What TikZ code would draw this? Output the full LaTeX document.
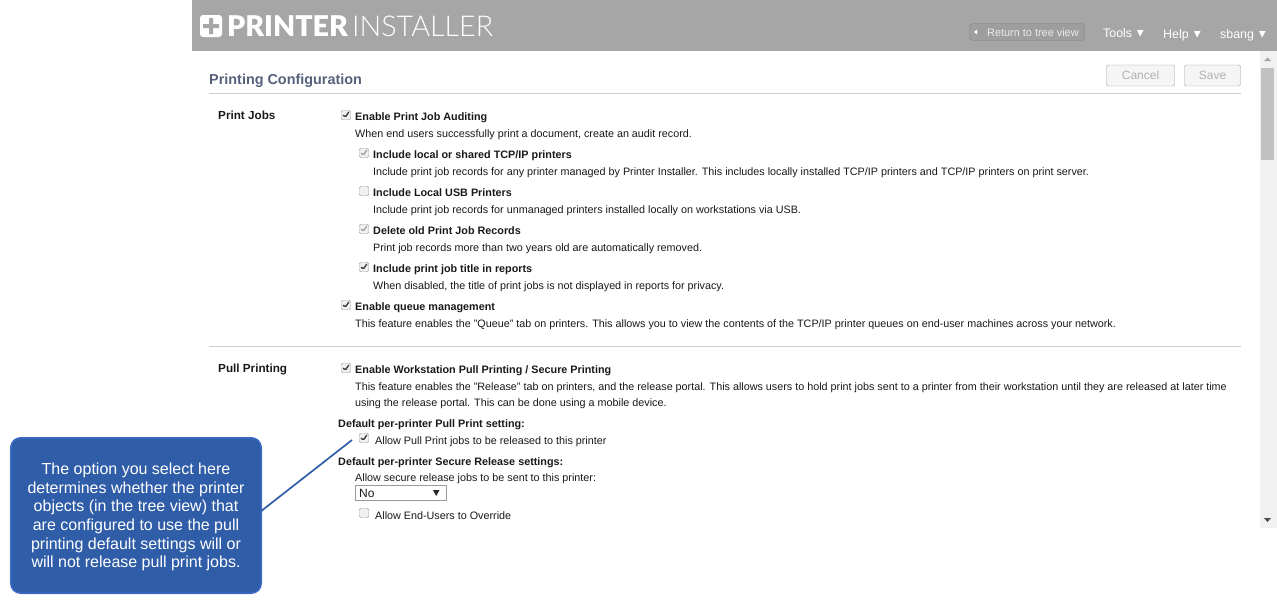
\documentclass[tikz,border=0pt]{standalone}
\usepackage{fontspec}
\setmainfont{Liberation Sans}
\newfontfamily\logobold{Lato Black}
\newfontfamily\logolight{Lato Light}
\usetikzlibrary{positioning}
\definecolor{headgray}{HTML}{A6A6A6}
\definecolor{titleblue}{HTML}{56607A}
\definecolor{calloutblue}{HTML}{2F5DA8}
\definecolor{calloutedge}{HTML}{3F6AC8}
\definecolor{rulegray}{HTML}{CFCFCF}
\definecolor{scrollgray}{HTML}{F1F1F1}
\definecolor{thumbgray}{HTML}{C1C1C1}
\tikzset{
	txt/.style={anchor=base west,inner sep=0pt,font=\fontsize{10.78}{12}\selectfont,text=black!90},
	bold/.style={txt,font=\fontsize{10.8}{12}\selectfont\bfseries},
	head/.style={txt,font=\fontsize{11.7}{14}\selectfont\bfseries},
	menu/.style={anchor=base west,inner sep=0pt,text=white,font=\fontsize{12.4}{14}\selectfont},
	chk/.style={draw=black!35,fill=black!6,rounded corners=1.5pt,minimum size=9.5pt,inner sep=0pt,shape=rectangle},
	chkon/.style={chk,path picture={\draw[line width=1.4pt,#1] ([xshift=-2.8pt,yshift=0pt]path picture bounding box.center) -- ++(2pt,-2.4pt) -- ++(3.6pt,5.4pt);}},
	chkon/.default=black!75,
	btn/.style={draw=black!40,fill=black!4,rounded corners=2pt,inner sep=0pt,text=black!30,font=\fontsize{12}{14}\selectfont}
}
\begin{document}
\begin{tikzpicture}[x=1pt,y=-1pt]
	\useasboundingbox (0,0) rectangle (1277,605);
	% header bar
	\fill[headgray] (192,0) rectangle (1277,51);
	\fill[white,rounded corners=3pt] (200,15) rectangle (222,37);
	\fill[headgray] (209,18) rectangle (213,34) (203,24) rectangle (219,28);
	\node (logoa) at (227,36.5) [anchor=base west,inner sep=0pt,text=white,font=\fontsize{28.6}{30}\logobold] {PRINTER};
	\node (logob) at (352,36.5) [anchor=base west,inner sep=0pt,text=white,font=\fontsize{28.7}{30}\logolight] {INSTALLER};
	\node (back) at (1027,32) [draw=black!50,fill=black!5!headgray,rounded corners=3pt,minimum width=115pt,minimum height=17pt,inner sep=0pt] {};
	\node (backtxt) at (987,36) [menu,font=\fontsize{10.9}{12}\selectfont,text=white!92!black] {Return to tree view};
	\fill[white] (974,32) -- (977,29.5) -- (977,34.5) -- cycle;
	\node (tools) at (1103,37) [menu] {Tools};
	\node (help) at (1163,38) [menu] {Help};
	\node (user) at (1220,38) [menu] {sbang};
	\fill[white] (1137,30) -- (1143.5,30) -- (1140.2,36.5) -- cycle
		(1194,31) -- (1200.5,31) -- (1197.2,37.5) -- cycle
		(1259,31) -- (1265.5,31) -- (1262.2,37.5) -- cycle;
	% title row
	\node (title) at (209,84) [head,font=\fontsize{14.4}{16}\selectfont\bfseries,text=titleblue] {Printing Configuration};
	\node (cancel) at (1140.5,75.5) [btn,minimum width=68pt,minimum height=21pt] {Cancel};
	\node (save) at (1212.5,75.5) [btn,minimum width=56pt,minimum height=21pt] {Save};
	\draw[rulegray] (209,93.5) -- (1241,93.5);
	\draw[rulegray] (209,346.5) -- (1241,346.5);
	% print jobs
	\node (jobs) at (218,119) [head] {Print Jobs};
	\node (c1) at (346,115) [chkon] {};
	\node (t1) at (355,120) [bold] {Enable Print Job Auditing};
	\node (d1) at (355,137) [txt] {When end users successfully print a document, create an audit record.};
	\node (c2) at (364,153) [chkon=black!35] {};
	\node (t2) at (373,158) [bold] {Include local or shared TCP/IP printers};
	\node (d2) at (373,175) [txt] {Include print job records for any printer managed by Printer Installer. This includes locally installed TCP/IP printers and TCP/IP printers on print server.};
	\node (c3) at (364,191) [chk] {};
	\node (t3) at (373,196) [bold] {Include Local USB Printers};
	\node (d3) at (373,213) [txt] {Include print job records for unmanaged printers installed locally on workstations via USB.};
	\node (c4) at (364,229) [chkon=black!35] {};
	\node (t4) at (373,234) [bold] {Delete old Print Job Records};
	\node (d4) at (373,251) [txt] {Print job records more than two years old are automatically removed.};
	\node (c5) at (364,267) [chkon] {};
	\node (t5) at (373,272) [bold] {Include print job title in reports};
	\node (d5) at (373,289) [txt] {When disabled, the title of print jobs is not displayed in reports for privacy.};
	\node (c6) at (346,305) [chkon] {};
	\node (t6) at (355,310) [bold] {Enable queue management};
	\node (d6) at (355,327) [txt] {This feature enables the "Queue" tab on printers. This allows you to view the contents of the TCP/IP printer queues on end-user machines across your network.};
	% pull printing
	\node (pull) at (218,372) [head] {Pull Printing};
	\node (c7) at (346,368) [chkon] {};
	\node (t7) at (355,373) [bold] {Enable Workstation Pull Printing / Secure Printing};
	\node (d7) at (355,390) [txt] {This feature enables the "Release" tab on printers, and the release portal. This allows users to hold print jobs sent to a printer from their workstation until they are released at later time};
	\node (d7b) at (355,406) [txt] {using the release portal. This can be done using a mobile device.};
	\node (t8) at (338,427) [bold] {Default per-printer Pull Print setting:};
	\node (c8) at (364,438) [chkon] {};
	\node (d8) at (375,444) [txt] {Allow Pull Print jobs to be released to this printer};
	\node (t9) at (338,465) [bold] {Default per-printer Secure Release settings:};
	\node (d9) at (355,481) [txt] {Allow secure release jobs to be sent to this printer:};
	\node (sel) at (401,493) [draw=black!40,line width=0.8pt,minimum width=91pt,minimum height=15pt,inner sep=0pt] {};
	\node (seltxt) at (359,497) [txt,font=\fontsize{12}{14}\selectfont] {No};
	\fill[black!85] (433,490) -- (439.5,490) -- (436.2,496) -- cycle;
	\node (c9) at (364,513) [chk] {};
	\node (d10) at (375,519) [txt] {Allow End-Users to Override};
	% scrollbar
	\fill[scrollgray] (1260,51) rectangle (1277,528);
	\fill[thumbgray] (1261,68) rectangle (1274,160);
	\fill[black!35] (1264,61) -- (1271,61) -- (1267.5,57.5) -- cycle;
	\fill[black!70] (1264,518) -- (1271,518) -- (1267.5,522) -- cycle;
	% callout
	\node (note) at (136,517) [draw=none,minimum width=250pt,minimum height=155pt,inner sep=0pt] {};
	\draw[calloutedge,fill=calloutblue,line width=1.5pt,rounded corners=10pt] (10.75,437.75) rectangle (261.25,593.25);
	\node (notetxt) at (136,517) [inner sep=0pt,align=center,text=white,font=\fontsize{16}{18.6}\selectfont] {The option you select here\\determines whether the printer\\objects (in the tree view) that\\are configured to use the pull\\printing default settings will or\\will not release pull print jobs.};
	\coordinate (tip) at (352,440);
	\draw[calloutblue,line width=1.7pt] (note.east |- 0,511) -- (tip);
\end{tikzpicture}
\end{document}
